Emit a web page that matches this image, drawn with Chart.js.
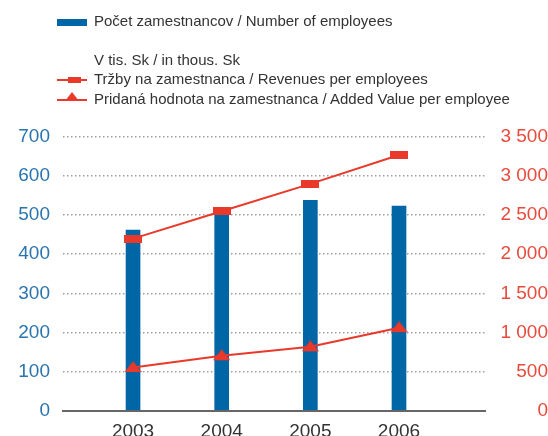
<!DOCTYPE html>
<html lang="sk">
<head>
    <meta charset="UTF-8">
    <title>Zamestnanci a tržby</title>
    <script src="https://cdn.jsdelivr.net/npm/chart.js"></script>
    <style>
        body {
            margin: 0;
            background: #fff;
            font-family: 'Liberation Sans', Arial, sans-serif;
        }
        .wrap {
            position: relative;
            width: 548px;
            height: 436px;
            overflow: hidden;
        }
        .legend {
            position: absolute;
            left: 0;
            top: 0;
            font-size: 15px;
            color: #333;
        }
        .legend div {
            position: absolute;
            left: 94px;
            white-space: nowrap;
            line-height: 18px;
        }
        .mark {
            position: absolute;
            left: 57px;
            width: 30px;
        }
        .bar-mark { height: 7px; background: #0066a6; top: 19px; }
        .line-mark { height: 2px; background: #e8392b; }
        .sq { position: absolute; left: 11px; top: -2px; width: 13px; height: 6px; background: #e8392b; }
        .tri {
            position: absolute; left: 8px; top: -7px; width: 0; height: 0;
            border-left: 7px solid transparent; border-right: 7px solid transparent;
            border-bottom: 9px solid #e8392b;
        }
    </style>
</head>
<body>
    <div class="wrap">
        <canvas id="chart" width="548" height="436"></canvas>
        <div class="legend">
            <span class="mark bar-mark"></span>
            <div style="top:12px">Počet zamestnancov / Number of employees</div>
            <div style="top:51px">V tis. Sk / in thous. Sk</div>
            <span class="mark line-mark" style="top:79px"><span class="sq"></span></span>
            <div style="top:70px">Tržby na zamestnanca / Revenues per employees</div>
            <span class="mark line-mark" style="top:99px"><span class="tri"></span></span>
            <div style="top:90px">Pridaná hodnota na zamestnanca / Added Value per employee</div>
        </div>
    </div>
    <script>
        // dáta z grafu
        const years = [2003, 2004, 2005, 2006];
        const employees = [462, 510, 538, 523];
        const revenues = [2200, 2550, 2900, 3270];
        const addedValue = [550, 700, 815, 1060];

        const blue = '#0066a6';
        const red = '#e8392b';

        // značka pre tržby - plochý obdĺžnik
        const rectMark = document.createElement('canvas');
        rectMark.width = 18;
        rectMark.height = 8;
        let c = rectMark.getContext('2d');
        c.fillStyle = red;
        c.fillRect(0, 0, 18, 8);

        // značka pre pridanú hodnotu - trojuholník
        const triMark = document.createElement('canvas');
        triMark.width = 17;
        triMark.height = 13;
        c = triMark.getContext('2d');
        c.fillStyle = red;
        c.beginPath();
        c.moveTo(8.5, 0);
        c.lineTo(17, 11);
        c.lineTo(0, 11);
        c.closePath();
        c.fill();

        function spaced(v) {
            return v.toString().replace(/\B(?=(\d{3})+(?!\d))/g, ' ');
        }

        const tickFont = { size: 19, family: "'Liberation Sans', Arial" };

        const ctx = document.getElementById('chart').getContext('2d');
        const chart = new Chart(ctx, {
            type: 'bar',
            data: {
                datasets: [
                    {
                        type: 'line',
                        label: 'Tržby na zamestnanca / Revenues per employees',
                        data: years.map((y, i) => ({ x: y, y: revenues[i] })),
                        yAxisID: 'y1',
                        borderColor: red,
                        borderWidth: 2,
                        pointStyle: rectMark,
                        order: 0
                    },
                    {
                        type: 'line',
                        label: 'Pridaná hodnota na zamestnanca / Added Value per employee',
                        data: years.map((y, i) => ({ x: y, y: addedValue[i] })),
                        yAxisID: 'y1',
                        borderColor: red,
                        borderWidth: 2,
                        pointStyle: triMark,
                        order: 0
                    },
                    {
                        label: 'Počet zamestnancov / Number of employees',
                        data: years.map((y, i) => ({ x: y, y: employees[i] })),
                        yAxisID: 'y',
                        backgroundColor: blue,
                        barThickness: 14,
                        order: 1
                    }
                ]
            },
            options: {
                responsive: false,
                animation: false,
                layout: {
                    padding: { top: 137, bottom: 0, left: 0, right: 0 }
                },
                plugins: {
                    legend: { display: false },
                    tooltip: { enabled: false }
                },
                scales: {
                    x: {
                        type: 'linear',
                        offset: false,
                        min: 2002.21,
                        max: 2006.97,
                        afterBuildTicks: function (axis) {
                            axis.ticks = years.map(v => ({ value: v }));
                        },
                        afterFit: function (axis) { axis.height = 25.5; },
                        grid: { display: false, drawTicks: false },
                        border: { color: '#666', width: 2 },
                        ticks: {
                            padding: 10,
                            color: '#333',
                            font: tickFont,
                            callback: v => String(v)
                        }
                    },
                    y: {
                        position: 'left',
                        min: 0,
                        max: 700,
                        afterFit: function (axis) { axis.width = 63; },
                        border: { display: false, dash: [1.5, 2.5] },
                        grid: {
                            drawTicks: false,
                            color: context => context.tick.value === 0 ? 'rgba(0,0,0,0)' : '#a0a0a0',
                            lineWidth: 1.5
                        },
                        ticks: {
                            stepSize: 100,
                            padding: 13,
                            color: '#2a74b0',
                            font: tickFont
                        }
                    },
                    y1: {
                        position: 'right',
                        min: 0,
                        max: 3500,
                        afterFit: function (axis) { axis.width = 63; },
                        border: { display: false },
                        grid: { display: false },
                        ticks: {
                            stepSize: 500,
                            crossAlign: 'far',
                            padding: 0,
                            color: '#e84b3c',
                            font: tickFont,
                            callback: v => spaced(v)
                        }
                    }
                }
            }
        });
    </script>
</body>
</html>
